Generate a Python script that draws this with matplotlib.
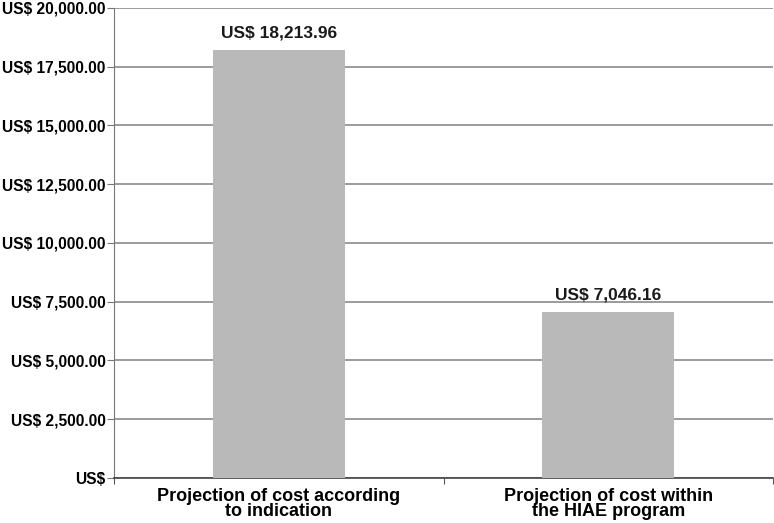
import matplotlib.pyplot as plt
from matplotlib.ticker import FuncFormatter

categories = ["Projection of cost according\nto indication",
              "Projection of cost within\nthe HIAE program"]
costs = [18213.96, 7046.16]
y_ticks = [0, 2500, 5000, 7500, 10000, 12500, 15000, 17500, 20000]

plt.rcParams['font.family'] = ['Liberation Sans', 'DejaVu Sans']
plt.rcParams['font.weight'] = 'bold'

fig = plt.figure(figsize=(7.74, 5.23), dpi=100)
ax = fig.add_axes([0.147, 0.086, 0.852, 0.899])

x = [0, 1]
bars = ax.bar(x, costs, width=0.4, color="#b9b9b9", zorder=3)
for b, v in zip(bars, costs):
    ax.text(b.get_x() + b.get_width() / 2, v + 400, f"US$ {v:,.2f}",
            ha="center", va="bottom", fontsize=12.5, fontweight="bold", color="#1a1a1a")

ax.set_xlim(-0.5, 1.5)
ax.set_ylim(0, 20000)
ax.set_yticks(y_ticks)
ax.yaxis.set_major_formatter(FuncFormatter(lambda v, p: "US$" if v == 0 else f"US$ {v:,.2f}"))
ax.grid(axis="y", color="#8a8a8a", linewidth=1.2, zorder=0)

ax.set_xticks([-0.5, 0.5, 1.5])
ax.set_xticklabels([])
ax.set_xticks(x, minor=True)
ax.set_xticklabels(categories, minor=True, fontsize=13, fontweight="bold", linespacing=0.85)
ax.tick_params(axis="x", which="minor", length=0, pad=7)
ax.tick_params(axis="x", which="major", length=4, color="#555555")
ax.tick_params(axis="y", length=5, color="#777777", labelsize=11.2, pad=1)

for s in ["top", "right"]:
    ax.spines[s].set_visible(False)
ax.spines["left"].set_color("#777777")
ax.spines["bottom"].set_color("#444444")
ax.spines["bottom"].set_linewidth(1.2)

plt.savefig("out.png", dpi=100)
